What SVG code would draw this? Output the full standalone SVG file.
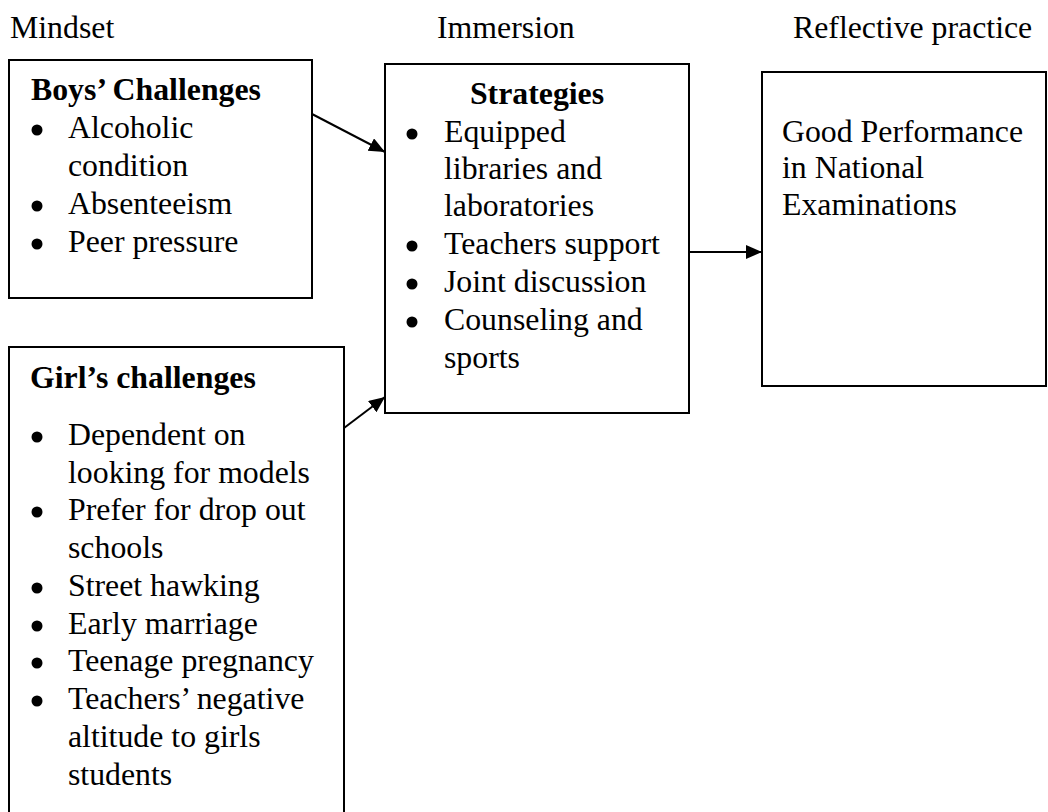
<svg xmlns="http://www.w3.org/2000/svg" width="1048" height="812" viewBox="0 0 1048 812">
<style>
text{font-family:"Liberation Serif","Times New Roman",serif;font-size:31.8px;fill:#000}
.b{font-weight:bold}
.box{fill:#fff;stroke:#000;stroke-width:2}
.con{stroke:#000;stroke-width:2;fill:none}
.dot{fill:#000}
</style>
<defs>
<marker id="ah" markerUnits="userSpaceOnUse" markerWidth="18" markerHeight="16" refX="16" refY="7" orient="auto">
<path d="M0,0 L16,7 L0,14 Z" fill="#000"/>
</marker>
</defs>
<rect width="1048" height="812" fill="#fff"/>
<g id="headers">
<text x="10" y="38">Mindset</text>
<text x="437" y="38">Immersion</text>
<text x="793" y="38">Reflective practice</text>
</g>
<g id="connectors">
<line class="con" x1="312" y1="114" x2="385" y2="152" marker-end="url(#ah)"/>
<line class="con" x1="344" y1="428" x2="385" y2="397" marker-end="url(#ah)"/>
<line class="con" x1="689" y1="252" x2="762" y2="252" marker-end="url(#ah)"/>
</g>
<g id="boys">
<rect class="box" x="9" y="60" width="303" height="238"/>
<text class="b" x="31" y="100">Boys’ Challenges</text>
<circle class="dot" cx="37" cy="130" r="5.5"/><text x="68" y="138">Alcoholic</text>
<text x="68" y="176">condition</text>
<circle class="dot" cx="37" cy="206" r="5.5"/><text x="68" y="214">Absenteeism</text>
<circle class="dot" cx="37" cy="244" r="5.5"/><text x="68" y="252">Peer pressure</text>
</g>
<g id="strategies">
<rect class="box" x="385" y="64" width="304" height="349"/>
<text class="b" x="537" y="104" text-anchor="middle">Strategies</text>
<circle class="dot" cx="412" cy="134" r="5.5"/><text x="444" y="142">Equipped</text>
<text x="444" y="179">libraries and</text>
<text x="444" y="216">laboratories</text>
<circle class="dot" cx="412" cy="246" r="5.5"/><text x="444" y="254">Teachers support</text>
<circle class="dot" cx="412" cy="284" r="5.5"/><text x="444" y="292">Joint discussion</text>
<circle class="dot" cx="412" cy="322" r="5.5"/><text x="444" y="330">Counseling and</text>
<text x="444" y="368">sports</text>
</g>
<g id="performance">
<rect class="box" x="762" y="72" width="284" height="314"/>
<text x="782" y="142">Good Performance</text>
<text x="782" y="178">in National</text>
<text x="782" y="215">Examinations</text>
</g>
<g id="girls">
<rect class="box" x="9" y="347" width="335" height="480"/>
<text class="b" x="30" y="388">Girl’s challenges</text>
<circle class="dot" cx="37" cy="437" r="5.5"/><text x="68" y="445">Dependent on</text>
<text x="68" y="483">looking for models</text>
<circle class="dot" cx="37" cy="512" r="5.5"/><text x="68" y="520">Prefer for drop out</text>
<text x="68" y="558">schools</text>
<circle class="dot" cx="37" cy="588" r="5.5"/><text x="68" y="596">Street hawking</text>
<circle class="dot" cx="37" cy="626" r="5.5"/><text x="68" y="634">Early marriage</text>
<circle class="dot" cx="37" cy="663" r="5.5"/><text x="68" y="671">Teenage pregnancy</text>
<circle class="dot" cx="37" cy="701" r="5.5"/><text x="68" y="709">Teachers’ negative</text>
<text x="68" y="747">altitude to girls</text>
<text x="68" y="785">students</text>
</g>
</svg>
